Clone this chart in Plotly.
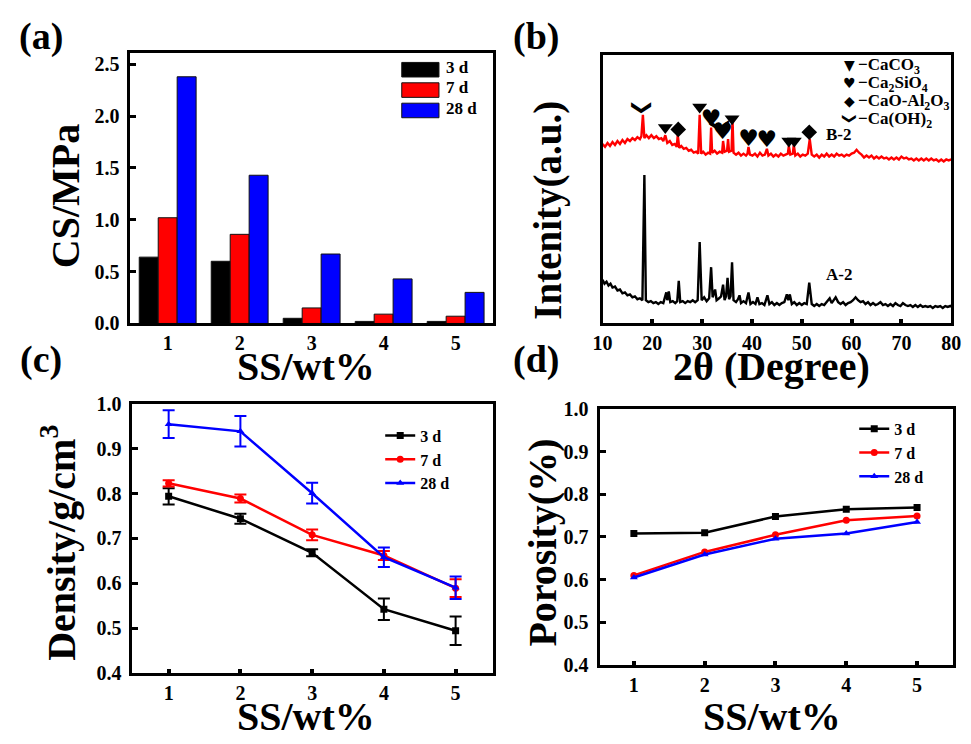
import plotly.graph_objects as go

W, H = 971, 744
SERIF = "Liberation Serif, Times New Roman, Times, serif"

# ---------------- data ----------------
ss = [1, 2, 3, 4, 5]
ages = ["3 d", "7 d", "28 d"]
age_colors = ["#000000", "#ff0000", "#0000ff"]

# (a) compressive strength, MPa
cs_3d = [0.64, 0.60, 0.05, 0.02, 0.02]
cs_7d = [1.02, 0.86, 0.15, 0.09, 0.07]
cs_28d = [2.38, 1.43, 0.67, 0.43, 0.30]

# (b) XRD patterns (2theta, intensity a.u.)
b2_x = [10.0, 10.5, 11.0, 11.5, 12.0, 12.5, 13.0, 13.5, 14.0, 14.5, 15.0, 15.5, 16.0, 16.5, 17.0, 17.5, 17.8, 18.1, 18.4,
        18.8, 19.3, 19.8, 20.3, 20.8, 21.3, 21.8, 22.2, 22.6, 23.0, 23.5, 24.0, 24.5, 24.9, 25.1, 25.4, 25.8, 26.3, 26.8,
        27.3, 27.8, 28.3, 28.8, 29.2, 29.5, 29.8, 30.2, 30.7, 31.2, 31.6, 31.8, 32.0, 32.5, 33.0, 33.5, 34.0, 34.2, 34.5,
        35.0, 35.2, 35.4, 35.9, 36.1, 36.3, 36.8, 37.3, 37.8, 38.3, 38.8, 39.1, 39.3, 39.6, 40.1, 40.6, 41.1, 41.6, 42.1,
        42.6, 43.0, 43.3, 43.8, 44.3, 44.8, 45.3, 45.8, 46.3, 46.8, 47.2, 47.4, 47.7, 48.2, 48.4, 48.7, 49.2, 49.7, 50.2,
        50.7, 51.2, 51.6, 52.0, 52.5, 53.0, 53.5, 54.0, 54.5, 55.0, 55.5, 56.0, 56.5, 57.0, 57.5, 58.0, 58.5, 59.0, 59.5,
        60.0, 60.5, 61.0, 61.5, 62.0, 62.5, 63.0, 63.5, 64.0, 64.5, 65.0, 65.5, 66.0, 66.5, 67.0, 67.5, 68.0, 68.5, 69.0,
        69.5, 70.0, 70.5, 71.0, 71.5, 72.0, 72.5, 73.0, 73.5, 74.0, 74.5, 75.0, 75.5, 76.0, 76.5, 77.0, 77.5, 78.0, 78.5,
        79.0, 79.5, 80.0]
b2_y = [185, 182, 186, 183, 187, 184, 188, 185, 189, 186, 190, 188, 191, 189, 192, 190, 193, 215, 191,
        194, 191, 194, 191, 193, 190, 191, 188, 194, 186, 188, 184, 185, 182, 194, 181, 183, 180, 181,
        178, 179, 176, 177, 175, 215, 175, 177, 174, 176, 175, 202, 176, 178, 175, 177, 176, 188, 177,
        178, 190, 177, 178, 210, 176, 174, 176, 173, 175, 173, 175, 182, 174, 173, 175, 172, 176, 173,
        174, 180, 173, 175, 172, 174, 172, 175, 173, 174, 175, 183, 174, 175, 184, 173, 175, 172, 174,
        173, 175, 190, 174, 172, 174, 171, 174, 172, 175, 172, 174, 172, 175, 173, 174, 172, 174, 173,
        175, 176, 179, 176, 174, 171, 173, 171, 173, 170, 172, 170, 172, 170, 171, 169, 171, 169, 171,
        169, 172, 170, 171, 169, 170, 168, 170, 168, 170, 168, 170, 168, 170, 168, 169, 167, 169, 167,
        169, 168, 169]

a2_x = [10.0, 10.4, 10.8, 11.2, 11.6, 12.0, 12.5, 13.0, 13.5, 14.0, 14.5, 15.0, 15.5, 16.0, 16.5, 17.0, 17.5, 18.0, 18.4,
        18.7, 19.2, 19.7, 20.2, 20.7, 21.2, 21.7, 22.2, 22.8, 23.0, 23.3, 23.6, 24.1, 24.6, 25.0, 25.3, 25.6, 26.1, 26.6,
        27.1, 27.6, 28.1, 28.6, 29.1, 29.5, 29.9, 30.4, 30.9, 31.4, 31.8, 32.1, 32.6, 32.9, 33.4, 33.8, 34.2, 34.5, 34.8,
        35.1, 35.4, 35.7, 36.0, 36.3, 36.8, 37.2, 37.5, 37.8, 38.3, 38.8, 39.3, 39.7, 40.2, 40.7, 41.1, 41.5, 42.0, 42.5,
        43.1, 43.5, 44.0, 44.5, 45.0, 45.5, 46.0, 46.5, 47.0, 47.3, 47.6, 48.0, 48.5, 49.0, 49.5, 50.0, 50.5, 51.0, 51.5,
        52.0, 52.5, 53.0, 53.5, 54.0, 54.5, 55.0, 55.6, 56.0, 56.8, 57.3, 57.8, 58.3, 58.8, 59.3, 59.8, 60.3, 60.8, 61.3,
        61.8, 62.3, 62.8, 63.3, 63.8, 64.3, 64.8, 65.3, 65.8, 66.3, 66.8, 67.3, 67.8, 68.3, 68.8, 69.3, 69.8, 70.3, 70.8,
        71.3, 71.8, 72.3, 72.8, 73.3, 73.8, 74.3, 74.8, 75.3, 75.8, 76.3, 76.8, 77.3, 77.8, 78.3, 78.8, 79.3, 79.8, 80.0]
a2_y = [45, 41, 43, 39, 41, 37, 38, 34, 35, 31, 32, 29, 30, 27, 28, 25, 26, 24, 153,
        24, 22, 23, 21, 22, 20, 22, 21, 32, 24, 33, 22, 23, 21, 23, 44, 22, 23, 21,
        23, 22, 24, 22, 24, 84, 24, 27, 23, 26, 58, 27, 35, 24, 26, 28, 40, 24, 28,
        47, 25, 28, 63, 24, 22, 25, 29, 21, 23, 21, 32, 20, 22, 20, 27, 20, 21, 19,
        29, 20, 22, 19, 21, 19, 21, 22, 30, 24, 30, 20, 22, 19, 21, 19, 21, 20, 42,
        20, 18, 20, 18, 20, 19, 22, 26, 21, 27, 22, 20, 22, 19, 21, 22, 24, 27, 24,
        22, 23, 20, 22, 19, 21, 19, 20, 22, 19, 20, 18, 20, 18, 21, 19, 18, 21, 19,
        18, 19, 17, 19, 17, 19, 17, 18, 17, 18, 16, 18, 17, 18, 16, 18, 17, 18, 17]

# phase markers on B-2 peaks
caco3_x = [22.6, 29.5, 36.0, 47.4, 48.5]
caco3_y = [202, 223, 211, 188, 188]
c2s_x = [31.8, 34.1, 39.3, 43.0]
c2s_y = [209, 196, 189, 188]
caal_x = [25.2, 51.5]
caal_y = [200, 197]
ch_x = [18.1, 33.9]
ch_y = [222, 204]

# (c) density, g/cm3
dens_3d = [0.794, 0.744, 0.668, 0.542, 0.494]
dens_3d_err = [0.018, 0.011, 0.008, 0.024, 0.032]
dens_7d = [0.823, 0.789, 0.708, 0.662, 0.589]
dens_7d_err = [0.007, 0.009, 0.012, 0.010, 0.020]
dens_28d = [0.955, 0.939, 0.801, 0.658, 0.590]
dens_28d_err = [0.031, 0.034, 0.023, 0.022, 0.025]

# (d) porosity
por_3d = [0.708, 0.710, 0.748, 0.765, 0.769]
por_7d = [0.610, 0.665, 0.705, 0.739, 0.749]
por_28d = [0.605, 0.659, 0.696, 0.708, 0.735]


# ---------------- helpers ----------------
def px(x):
    return x / W


def py(y):
    return 1 - y / H


def bold(size, color="#000000", family=SERIF):
    return dict(family=family, size=size, color=color, weight="bold")


fig = go.Figure()

# (a) bars
for vals, name, col in zip([cs_3d, cs_7d, cs_28d], ages, age_colors):
    fig.add_trace(go.Bar(x=ss, y=vals, name=name, marker=dict(color=col, line=dict(color="#111111", width=1)),
                         xaxis="x", yaxis="y", showlegend=False))

# (b) XRD
fig.add_trace(go.Scatter(x=b2_x, y=b2_y, mode="lines", line=dict(color="#ff0000", width=2.4),
                         xaxis="x2", yaxis="y2", showlegend=False))
fig.add_trace(go.Scatter(x=a2_x, y=a2_y, mode="lines", line=dict(color="#000000", width=2.4),
                         xaxis="x2", yaxis="y2", showlegend=False))
fig.add_trace(go.Scatter(x=caco3_x, y=caco3_y, mode="markers",
                         marker=dict(symbol="triangle-down", size=13, color="#000000"),
                         xaxis="x2", yaxis="y2", showlegend=False))
fig.add_trace(go.Scatter(x=caal_x, y=caal_y, mode="markers",
                         marker=dict(symbol="diamond", size=12, color="#000000"),
                         xaxis="x2", yaxis="y2", showlegend=False))
fig.add_trace(go.Scatter(x=c2s_x, y=c2s_y, mode="text", text=["♥"] * len(c2s_x),
                         textfont=dict(family="DejaVu Sans", size=23, color="#000000"),
                         xaxis="x2", yaxis="y2", showlegend=False))

# (c) density with error bars
symbols = ["square", "circle", "triangle-up"]
for vals, errs, name, col, sym in zip([dens_3d, dens_7d, dens_28d], [dens_3d_err, dens_7d_err, dens_28d_err],
                                      ages, age_colors, symbols):
    fig.add_trace(go.Scatter(x=ss, y=vals, name=name, mode="lines+markers",
                             line=dict(color=col, width=2.5), marker=dict(symbol=sym, size=7, color=col),
                             error_y=dict(type="data", array=errs, color=col, thickness=2, width=6),
                             xaxis="x3", yaxis="y3", legend="legend"))

# (d) porosity
for vals, name, col, sym in zip([por_3d, por_7d, por_28d], ages, age_colors, symbols):
    fig.add_trace(go.Scatter(x=ss, y=vals, name=name, mode="lines+markers",
                             line=dict(color=col, width=2.5), marker=dict(symbol=sym, size=7, color=col),
                             xaxis="x4", yaxis="y4", legend="legend2"))

# ---------------- axes ----------------
tickfont = bold(20)
common = dict(showline=True, linewidth=3, linecolor="#000000", mirror=True, showgrid=False, zeroline=False,
              tickfont=tickfont, tickcolor="#000000")
ycommon = dict(ticks="inside", ticklen=6, tickwidth=2.5, ticklabelstandoff=4, **common)
dec_vals = [0.4, 0.5, 0.6, 0.7, 0.8, 0.9, 1.0]
dec_text = ["0.4", "0.5", "0.6", "0.7", "0.8", "0.9", "1.0"]

fig.update_layout(
    xaxis=dict(domain=[px(123), px(493)], range=[0.483, 5.517], anchor="y", tickvals=ss, ticks="", **common),
    yaxis=dict(domain=[py(322), py(43)], range=[0, 2.612], anchor="x", tickvals=[0, 0.5, 1.0, 1.5, 2.0, 2.5],
               ticktext=["0.0", "0.5", "1.0", "1.5", "2.0", "2.5"], **ycommon),
    xaxis2=dict(domain=[px(605), px(961)], range=[10, 80], anchor="y2", tickvals=[10, 20, 30, 40, 50, 60, 70, 80],
                ticks="inside", ticklen=4, tickwidth=4, **common),
    yaxis2=dict(domain=[py(322), py(45)], range=[0, 277], anchor="x2", showticklabels=False, ticks="", **common),
    xaxis3=dict(domain=[px(125), px(493)], range=[0.495, 5.519], anchor="y3", tickvals=ss,
                ticks="inside", ticklen=4, tickwidth=4, **common),
    yaxis3=dict(domain=[py(682), py(405)], range=[0.4, 1.0], anchor="x3", tickvals=dec_vals, ticktext=dec_text,
                **ycommon),
    xaxis4=dict(domain=[px(602), px(963)], range=[0.516, 5.51], anchor="y4", tickvals=ss,
                ticks="inside", ticklen=4, tickwidth=4, **common),
    yaxis4=dict(domain=[py(674), py(410)], range=[0.4, 1.0], anchor="x4", tickvals=dec_vals, ticktext=dec_text,
                **ycommon),
    barmode="group", bargap=0.21, bargroupgap=0,
    width=W, height=H, margin=dict(l=0, r=0, t=0, b=0),
    paper_bgcolor="#ffffff", plot_bgcolor="#ffffff",
    legend=dict(x=px(378), y=py(420), xanchor="left", yanchor="top", bgcolor="rgba(0,0,0,0)",
                font=bold(16), tracegroupgap=0, itemwidth=30),
    legend2=dict(x=px(862), y=py(413), xanchor="left", yanchor="top", bgcolor="rgba(0,0,0,0)",
                 font=bold(16), tracegroupgap=0, itemwidth=30),
)

annotations = []
shapes = []


def ann(text, x, y, size, rot=0, xanchor="center", family=SERIF, **kw):
    annotations.append(dict(text=text, x=px(x), y=py(y), xref="paper", yref="paper", showarrow=False,
                            xanchor=xanchor, yanchor="middle", textangle=rot, font=bold(size, family=family), **kw))


# panel labels
ann("(a)", 32, 26, 38)
ann("(b)", 537, 26, 38)
ann("(c)", 32, 359, 38)
ann("(d)", 537, 359, 38)

# axis titles
ann("CS/MPa", 57, 191, 40, rot=-90)
ann("SS/wt%", 302, 366, 40)
ann("Intenity(a.u.)", 549, 205, 39, rot=-90)
ann("2θ (Degree)", 778, 366, 40)
ann("Density/g/cm<sup>3</sup>", 50, 548, 40, rot=-90)
ann("SS/wt%", 302, 727, 40)
ann("Porosity(%)", 544, 548, 40, rot=-90)
ann("SS/wt%", 778, 727, 40)

# (a) legend
for i, (name, col) in enumerate(zip(ages, age_colors)):
    y0 = 53 + 21 * i
    shapes.append(dict(type="rect", xref="paper", yref="paper", x0=px(400), x1=px(438), y0=py(y0 + 15), y1=py(y0),
                       fillcolor=col, line=dict(color="#111111", width=1)))
    ann(name, 443, y0 + 5, 17, xanchor="left")

# (b) labels and phase legend
ann("B-2", 846, 127, 17)
ann("A-2", 846, 272, 17)
leg_syms = ["▼", "♥", "◆", "❯"]
leg_txt = ["−CaCO<sub>3</sub>", "−Ca<sub>2</sub>SiO<sub>4</sub>", "−CaO-Al<sub>2</sub>O<sub>3</sub>",
           "−Ca(OH)<sub>2</sub>"]
for i, (s, t) in enumerate(zip(leg_syms, leg_txt)):
    yy = 56 + 18.5 * i
    if s == "❯":
        ann(s, 857, yy, 14, rot=90, family="DejaVu Sans")
    else:
        ann(s, 857, yy, 14, family="DejaVu Sans")
    ann(t, 864, yy + 1, 17, xanchor="left")

# Ca(OH)2 chevrons on peaks (data coordinates)
for xv, yv in zip(ch_x, ch_y):
    annotations.append(dict(text="❯", x=xv, y=yv, xref="x2", yref="y2", showarrow=False, textangle=90,
                            font=dict(family="DejaVu Sans", size=20, color="#000000", weight="bold")))

fig.update_layout(annotations=annotations, shapes=shapes)
fig.write_html("out.html")
